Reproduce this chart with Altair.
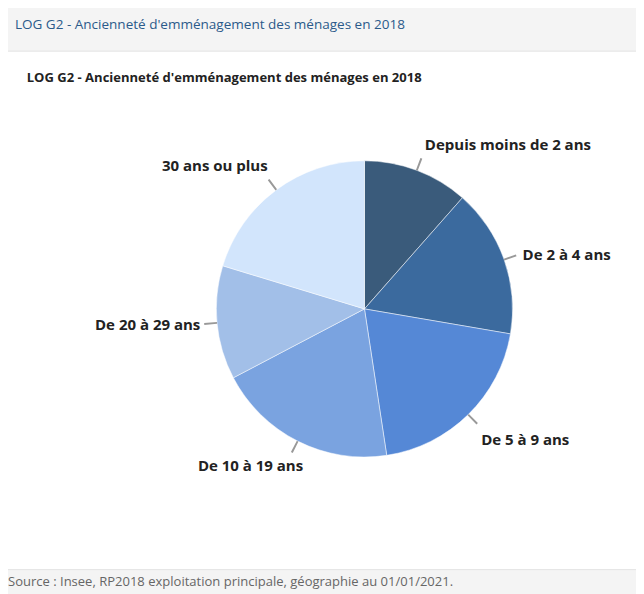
import altair as alt
import pandas as pd

categories = ["Depuis moins de 2 ans", "De 2 à 4 ans", "De 5 à 9 ans",
              "De 10 à 19 ans", "De 20 à 29 ans", "30 ans ou plus"]
values = [11.5, 16.2, 19.9, 19.7, 12.4, 20.3]
colors = ["#3a5b7b", "#3b6a9e", "#5588d6", "#7aa3e0", "#a2bfe8", "#d2e5fc"]

header = "LOG G2 - Ancienneté d'emménagement des ménages en 2018"
title = "LOG G2 - Ancienneté d'emménagement des ménages en 2018"
source = "Source : Insee, RP2018 exploitation principale, géographie au 01/01/2021."

df = pd.DataFrame({"cat": categories, "value": values, "idx": list(range(len(values)))})

FONT = "Open Sans"
CX, CY, R = 361, 301, 150
theta_scale = alt.Scale(domain=[0, 100])
color_scale = alt.Scale(domain=categories, range=colors)

base = alt.Chart(df)

panel = alt.Chart(pd.DataFrame({"a": [0]})).mark_rect(
    fill="white", stroke="#e4e4e4", strokeWidth=1
).encode(x=alt.value(-1), x2=alt.value(645), y=alt.value(40), y2=alt.value(565))

def text_layer(txt, x, y, size, weight, color):
    return alt.Chart(pd.DataFrame({"t": [txt]})).mark_text(
        align="left", baseline="middle", font=FONT, fontSize=size,
        fontWeight=weight, color=color
    ).encode(x=alt.value(x), y=alt.value(y), text="t:N")

head = text_layer(header, 7, 14, 13.7, "normal", "#2b5a8a")
ttl = text_layer(title, 19, 67, 13.2, "bold", "#222222")
src = text_layer(source, 0, 578, 13.2, "normal", "#666666")

pie = base.mark_arc(radius=R, stroke="white", strokeWidth=0.5).encode(
    theta=alt.Theta("value:Q", stack=True, scale=theta_scale),
    color=alt.Color("cat:N", scale=color_scale, legend=None),
    order=alt.Order("idx:Q"),
    x=alt.value(CX), y=alt.value(CY),
)

with_mid = base.transform_window(
    cum="sum(value)", sort=[{"field": "idx"}], frame=[None, 0]
).transform_calculate(
    mid="datum.cum - datum.value / 2",
    t1="datum.mid - 0.1",
    t2="datum.mid + 0.1",
)

leaders = with_mid.mark_arc(radius=R, radius2=R + 13, color="#999999").encode(
    theta=alt.Theta("t1:Q", stack=None, scale=theta_scale),
    theta2="t2:Q",
    x=alt.value(CX), y=alt.value(CY),
)

def labels(i, align, dx=0, dy=0):
    return with_mid.transform_filter(f"datum.idx == {i}").mark_text(
        radius=R + 23, align=align, baseline="middle", font=FONT,
        fontSize=15.2, fontWeight="bold", color="#222222", dx=dx, dy=dy
    ).encode(
        theta=alt.Theta("mid:Q", stack=None, scale=theta_scale),
        text="cat:N",
        x=alt.value(CX), y=alt.value(CY),
    )

label_layers = [
    labels(0, "left", 0, -4),
    labels(1, "left", -3, 3),
    labels(2, "left", -3, 9),
    labels(3, "right", 16, 5),
    labels(4, "right", 6, 0),
    labels(5, "right", 5, -6),
]

chart = alt.layer(panel, head, ttl, src, pie, leaders, *label_layers).properties(
    width=636, height=586, padding=0, background="#f4f4f4",
    autosize=alt.AutoSizeParams(type="none")
).configure_view(stroke=None)

chart.save("out.html", embed_options={"renderer": "svg", "actions": False})
